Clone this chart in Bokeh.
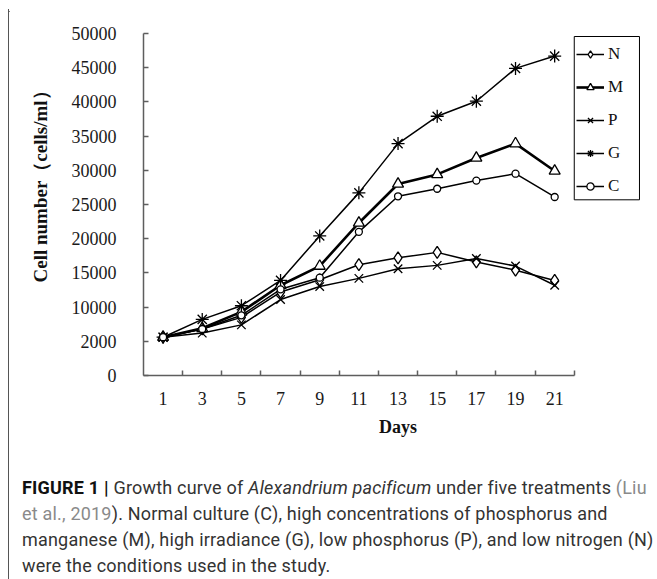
from bokeh.embed import file_html
from bokeh.layouts import column, row
from bokeh.models import (BoxAnnotation, Div, FixedTicker, Legend, LegendItem,
                          Range1d, Title)
from bokeh.plotting import figure
from bokeh.resources import INLINE

# Sampling days and cell counts (cells/ml) for each treatment
days = [1, 3, 5, 7, 9, 11, 13, 15, 17, 19, 21]
n_vals = [5600, 6800, 8500, 12200, 14000, 16200, 17200, 18000, 16600, 15400, 13900]
m_vals = [5600, 6900, 9300, 13200, 16000, 22300, 28000, 29400, 31800, 33900, 29900]
p_vals = [5600, 6200, 7400, 11100, 13000, 14200, 15600, 16100, 17100, 16000, 13200]
g_vals = [5600, 8200, 10200, 13900, 20400, 26700, 33900, 37900, 40100, 44900, 46700]
c_vals = [5600, 6800, 8800, 12600, 14300, 21000, 26200, 27300, 28500, 29500, 26100]

# Axis ticks: odd days labelled at band centres, boundaries between days
day_boundaries = [2, 4, 6, 8, 10, 12, 14, 16, 18, 20, 22]
y_ticks = [0, 5000, 10000, 15000, 20000, 25000, 30000, 35000, 40000, 45000, 50000]
y_tick_labels = ["0", "2000", "10000", "15000", "20000", "25000",
                 "30000", "35000", "40000", "45000", "50000"]

SERIF = "Liberation Serif"
AXIS_GREY = "#5e5e5e"
FRAME_GREY = "#555555"

# Frame geometry: 22 day-units span 433.3 px, 50000 cells span 342 px.
PX_PER_DAY = 433.3 / 22
PX_PER_CELL = 342 / 50000
FRAME_W, FRAME_H = 512, 342

# The frame runs on past day 22 to leave room for the legend; the x axis
# line itself stops at day 22.
X_END = FRAME_W / PX_PER_DAY

p = figure(width=648, height=431,
           x_range=Range1d(0, X_END), y_range=Range1d(0, 50000),
           output_backend="svg", toolbar_location=None,
           min_border_left=131, min_border_right=5,
           min_border_top=23, min_border_bottom=66,
           outline_line_color=None,
           background_fill_color="white", border_fill_color="white")
p.xgrid.visible = False
p.ygrid.visible = False

# y axis
p.yaxis.ticker = FixedTicker(ticks=y_ticks)
p.yaxis.major_label_overrides = {t: s for t, s in zip(y_ticks, y_tick_labels)}
p.yaxis.major_tick_in = 5
p.yaxis.major_tick_out = 0
p.yaxis.major_tick_line_color = AXIS_GREY
p.yaxis.minor_tick_line_color = None
p.yaxis.major_label_standoff = 27

# x axis
p.xaxis.bounds = (0, 22)
p.xaxis.ticker = FixedTicker(ticks=days, minor_ticks=day_boundaries)
p.xaxis.major_tick_line_color = None
p.xaxis.minor_tick_in = 5
p.xaxis.minor_tick_out = 0
p.xaxis.minor_tick_line_color = AXIS_GREY
p.xaxis.major_label_standoff = 10
p.xaxis.axis_label = "Days"
p.xaxis.axis_label_standoff = 9
p.xaxis.axis_label_text_font = SERIF
p.xaxis.axis_label_text_font_style = "bold"
p.xaxis.axis_label_text_font_size = "18px"
p.xaxis.axis_label_text_color = "#111111"

for ax in (p.xaxis, p.yaxis):
    ax.axis_line_color = AXIS_GREY
    ax.axis_line_width = 1.5
    ax.major_tick_line_width = 1.5
    ax.minor_tick_line_width = 1.5
    ax.major_label_text_font = SERIF
    ax.major_label_text_font_size = "18px"
    ax.major_label_text_color = "#1a1a1a"

# vertical y-axis title, starting a little above the frame bottom
p.add_layout(Title(text="Cell number（cells/ml）", align="left", offset=93,
                   standoff=36, text_font=SERIF, text_font_style="bold",
                   text_font_size="19px", text_color="#111111"), "left")

series = [
    ("N", n_vals, "diamond", 12, 1.5),
    ("M", m_vals, "triangle", 11, 2.6),
    ("P", p_vals, "x", 12, 1.5),
    ("G", g_vals, "asterisk", 13, 1.5),
    ("C", c_vals, "circle", 7, 1.5),
]

items = []
for name, vals, marker, size, lw in series:
    ln = p.line(days, vals, line_color="black", line_width=lw)
    sc = p.scatter(days, vals, marker=marker, size=size,
                   line_color="black", line_width=1.3,
                   fill_color="white")
    items.append(LegendItem(label=name, renderers=[ln, sc]))

# legend frame: starts at the end of the day axis, 3 px below the frame top
box_left_px, box_right_px = 0.0, 65.6
box_top_px, box_bottom_px = 3.0, 166.3
p.add_layout(BoxAnnotation(
    left=22 + box_left_px / PX_PER_DAY,
    right=22 + box_right_px / PX_PER_DAY,
    top=50000 - box_top_px / PX_PER_CELL,
    bottom=50000 - box_bottom_px / PX_PER_CELL,
    fill_color="white", fill_alpha=1.0,
    line_color="black", line_width=1, line_alpha=1.0))

legend = Legend(items=items, location=(433, 179), margin=0,
                padding=8, spacing=13, glyph_height=18, glyph_width=28,
                label_height=18, label_width=14, label_standoff=4,
                label_text_font=SERIF,
                label_text_font_size="17px", label_text_color="#111111",
                border_line_color=None, background_fill_alpha=0)
p.add_layout(legend)

caption_html = (
    '<div style="font-family: Roboto, sans-serif; font-size: 18px; '
    'letter-spacing: 0.2px; line-height: 26px; color: #333333; '
    'white-space: nowrap; padding: 34px 0 0 13px;">'
    '<b style="color:#111111">FIGURE 1 |</b> Growth curve of '
    '<i>Alexandrium pacificum</i> under five treatments '
    '<span style="color:#8a8a8a">(Liu</span><br>'
    '<span style="color:#8a8a8a">et al., 2019</span>). Normal culture (C), '
    'high concentrations of phosphorus and<br>'
    'manganese (M), high irradiance (G), low phosphorus (P), and low '
    'nitrogen (N)<br>'
    'were the conditions used in the study.'
    '</div>'
)
caption = Div(text=caption_html, width=648, height=138, margin=0)

# thin frame lines along the top and left of the figure panel
top_rule = Div(text='<div style="margin-top:9px;height:1px;width:648px;'
                    f'background:{FRAME_GREY}"></div>',
               width=648, height=10, margin=0)
left_rule = Div(text='<div style="margin-left:8px;margin-top:9px;width:1px;'
                     f'height:570px;background:{FRAME_GREY}"></div>',
                width=9, height=579, margin=0)

layout = row(left_rule, column(top_rule, p, caption, margin=0), margin=0)

open("out.html", "w").write(file_html(layout, INLINE))
